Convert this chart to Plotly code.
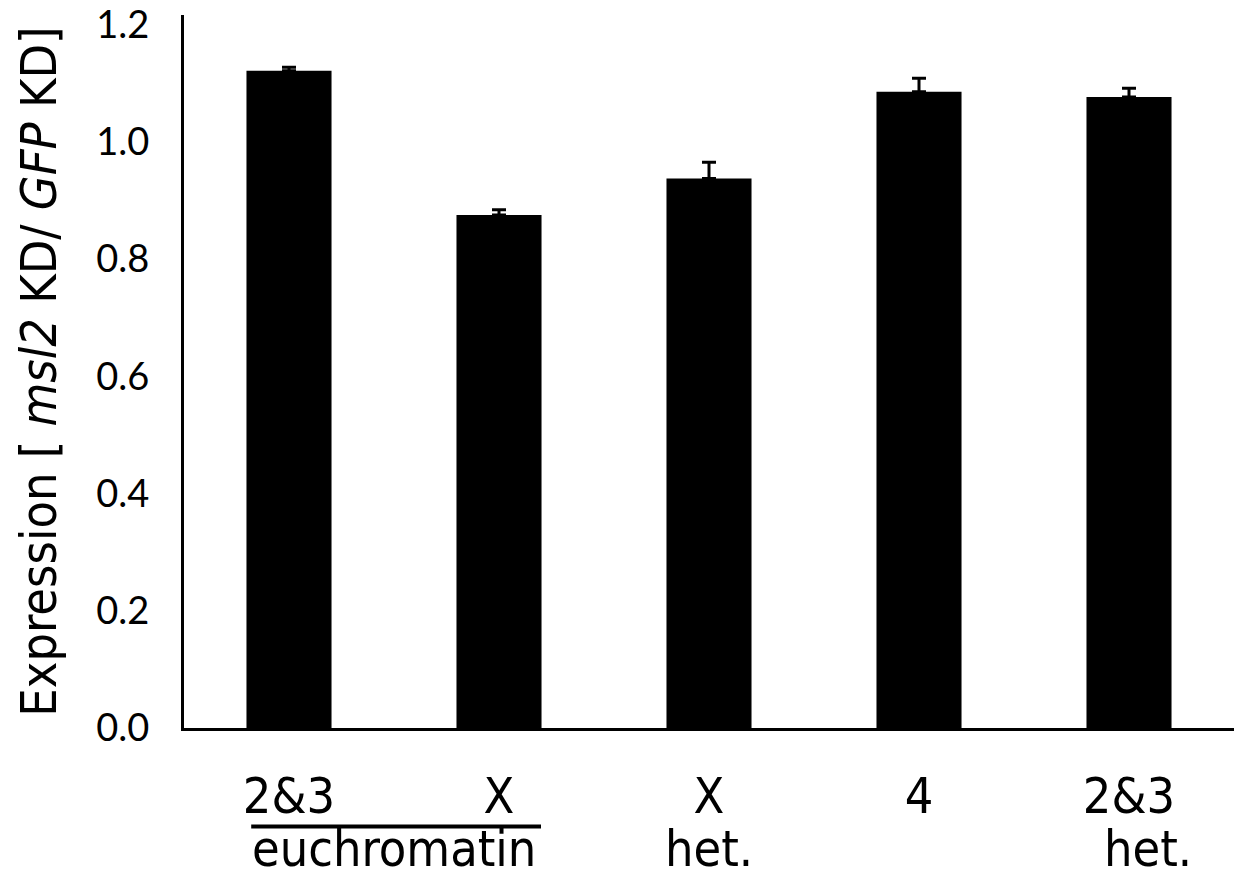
import plotly.graph_objects as go

categories = ["2&3", "X", "X", "4", "2&3"]
values = [1.121, 0.875, 0.937, 1.085, 1.076]
errors = [0.006, 0.009, 0.028, 0.023, 0.015]
y_ticks = [0.0, 0.2, 0.4, 0.6, 0.8, 1.0, 1.2]

xpos = list(range(len(categories)))

LABEL_FONT = "Liberation Sans Narrow, DejaVu Sans Condensed, Liberation Sans, sans-serif"
TICK_FONT = "Lato, Open Sans, sans-serif"
LSIZE = 50

fig = go.Figure()
fig.add_trace(go.Bar(
    x=xpos, y=values, width=0.405,
    marker=dict(color="black", line=dict(width=0)),
    error_y=dict(type="data", array=errors, symmetric=False, arrayminus=[0]*len(values),
                 color="black", thickness=3, width=7, visible=True),
    showlegend=False,
))

annotations = []
annotations.append(dict(x=(xpos[0] + xpos[1]) / 2, y=-0.126, xref="x", yref="paper",
                        text="euchromatin", showarrow=False, yanchor="top",
                        font=dict(family=LABEL_FONT, size=LSIZE, color="black")))
annotations.append(dict(x=xpos[2], y=-0.126, xref="x", yref="paper",
                        text="het.", showarrow=False, yanchor="top",
                        font=dict(family=LABEL_FONT, size=LSIZE, color="black")))
annotations.append(dict(x=xpos[4] + 0.09, y=-0.126, xref="x", yref="paper",
                        text="het.", showarrow=False, yanchor="top",
                        font=dict(family=LABEL_FONT, size=LSIZE, color="black")))

shapes = [dict(type="line", xref="x", yref="paper",
               x0=xpos[0] - 0.18, x1=xpos[1] + 0.2, y0=-0.138, y1=-0.138,
               line=dict(color="black", width=4))]

fig.update_layout(
    width=1234, height=880,
    margin=dict(l=184, r=0, t=13, b=152),
    plot_bgcolor="white", paper_bgcolor="white",
    annotations=annotations, shapes=shapes,
    xaxis=dict(range=[-0.5, 4.5], tickvals=xpos, ticktext=categories,
               showline=True, linecolor="black", linewidth=3, ticks="",
               showgrid=False, zeroline=False, ticklabelstandoff=22,
               tickfont=dict(family=LABEL_FONT, size=LSIZE, color="black")),
    yaxis=dict(range=[0, 1.216], tickvals=y_ticks, ticktext=[f"{v:.1f}" for v in y_ticks],
               showline=True, linecolor="black", linewidth=3, ticks="",
               showgrid=False, zeroline=False, ticklabelstandoff=24,
               ticklabeloverflow="allow",
               tickfont=dict(family=TICK_FONT, size=38, color="black"),
               title=dict(text="Expression [ <i>msl2</i> KD/ <i>GFP</i> KD]", standoff=24,
                          font=dict(family=LABEL_FONT, size=50, color="black"))),
)

fig.write_html("out.html")
